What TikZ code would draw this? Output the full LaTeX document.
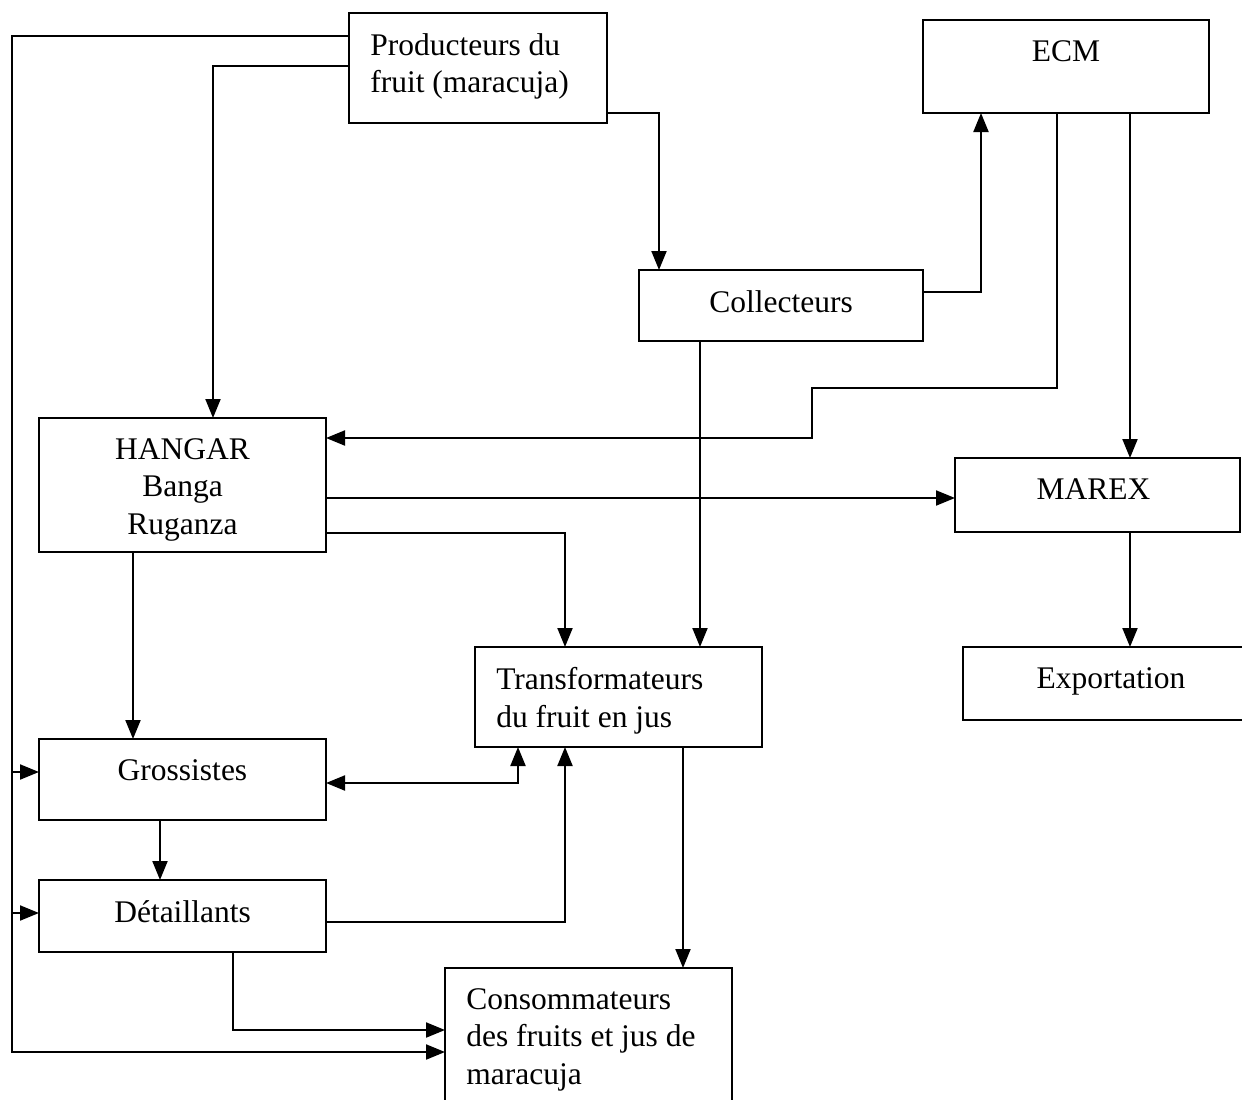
\documentclass[tikz,border=0pt]{standalone}
\usepackage{fontspec}
\setmainfont{Liberation Serif}
\usetikzlibrary{arrows.meta}

\begin{document}
\begin{tikzpicture}[x=1pt,y=-1pt,line width=2pt,font=\fontsize{31.5}{37.5}\selectfont]
\tikzset{
% Boxes: a frame, with the text set at its top
box/.style={draw,inner sep=0,outer sep=0,anchor=north west},
mid text/.style={anchor=north,align=center,yshift=-16},
left text/.style={anchor=north west,align=left,xshift=17,yshift=-16},
% Arrows between the boxes
flow/.style={-{Triangle[length=19pt,width=15pt]}},
both ways/.style={{Triangle[length=19pt,width=15pt]}-{Triangle[length=19pt,width=15pt]}}
}
\useasboundingbox (0,0) rectangle (1242,1100);

% The boxes
\node[box,minimum width=258,minimum height=110,label={[left text]north west:Producteurs du\\fruit (maracuja)}] (prod) at (349,13) {};
\node[box,minimum width=286,minimum height=93,label={[mid text]north:ECM}] (ecm) at (923,20) {};
\node[box,minimum width=284,minimum height=71,label={[mid text]north:Collecteurs}] (coll) at (639,270) {};
\node[box,minimum width=287,minimum height=134,label={[mid text]north:HANGAR\\Banga\\Ruganza}] (hangar) at (39,418) {};
\node[box,minimum width=285,minimum height=74,label={[mid text,xshift=-4]north:MAREX}] (marex) at (955,458) {};
\node[box,minimum width=287,minimum height=100,label={[left text]north west:Transformateurs\\du fruit en jus}] (transf) at (475,647) {};
\node[box,minimum width=290,minimum height=73,label={[mid text,xshift=3]north:Exportation}] (export) at (963,647) {};
\node[box,minimum width=287,minimum height=81,label={[mid text]north:Grossistes}] (gross) at (39,739) {};
\node[box,minimum width=287,minimum height=72,label={[mid text]north:Détaillants}] (detail) at (39,880) {};
\node[box,minimum width=287,minimum height=142,label={[left text]north west:Consommateurs\\des fruits et jus de\\maracuja}] (conso) at (445,968) {};

% Left line from the producers
\coordinate (bus top) at (12,36);
\coordinate (bus end) at (12,1052);
\draw[flow] (prod.west |- bus top) -- (bus top) -- (bus end) -- (conso.west |- bus end);
\draw[flow] (bus top |- 0,772) -- (gross.west |- 0,772);
\draw[flow] (bus top |- 0,913) -- (detail.west |- 0,913);

% Producers
\draw[flow] (prod.west |- 0,66) -| (hangar.north -| 213,0);
\draw[flow] (prod.east |- 0,113) -| (coll.north -| 659,0);
% Collecteurs
\draw[flow] (coll.east |- 0,292) -| (ecm.south -| 981,0);
\draw[flow] (coll.south -| 700,0) -- (transf.north -| 700,0);
% ECM
\draw[flow] (ecm.south -| 1057,0) -- (1057,388) -| (812,438) -- (hangar.east |- 0,438);
\draw[flow] (ecm.south -| 1130,0) -- (marex.north -| 1130,0);
% HANGAR
\draw[flow] (hangar.east |- 0,498) -- (marex.west |- 0,498);
\draw[flow] (hangar.east |- 0,533) -| (transf.north -| 565,0);
\draw[flow] (hangar.south -| 133,0) -- (gross.north -| 133,0);
% MAREX
\draw[flow] (marex.south -| 1130,0) -- (export.north -| 1130,0);
% Grossistes, detaillants, transformateurs
\draw[both ways] (gross.east |- 0,783) -| (transf.south -| 518,0);
\draw[flow] (gross.south -| 160,0) -- (detail.north -| 160,0);
\draw[flow] (detail.east |- 0,922) -| (transf.south -| 565,0);
\draw[flow] (transf.south -| 683,0) -- (conso.north -| 683,0);
\draw[flow] (detail.south -| 233,0) |- (conso.west |- 0,1030);
\end{tikzpicture}
\end{document}
